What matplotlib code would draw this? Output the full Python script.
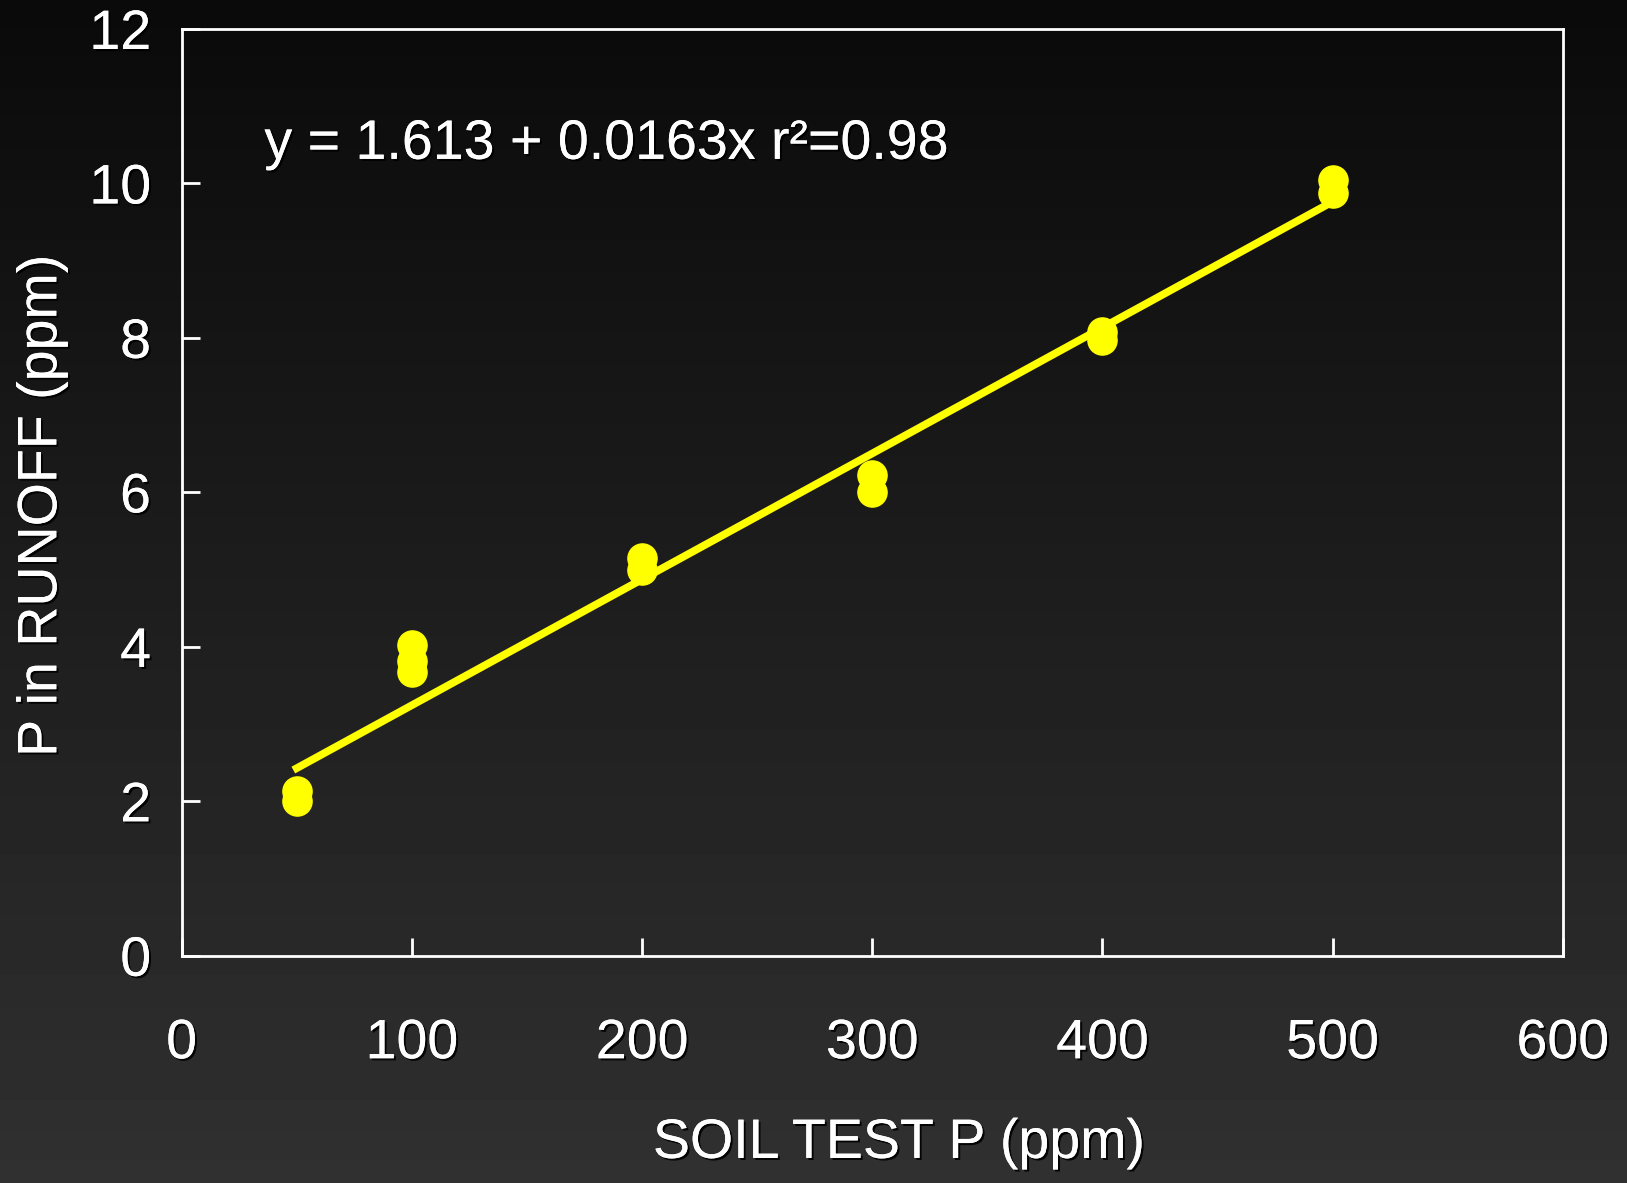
#!/usr/bin/env python3
"""Soil test P vs P in runoff, dark slide style."""

import numpy as np
import matplotlib
matplotlib.use("Agg")
import matplotlib.pyplot as plt
import matplotlib.patheffects as pe

# data
soil_p = [50, 50, 100, 100, 100, 200, 200, 300, 300, 400, 400, 500, 500]
runoff_p = [2.0, 2.13, 4.02, 3.82, 3.68, 5.15, 5.0, 6.22, 6.0, 8.07, 7.97, 10.05, 9.88]
fit_a = 1.613
fit_b = 0.0163
fit_x = [50, 100, 150, 200, 250, 300, 350, 400, 450, 500]
x_ticks = [0, 100, 200, 300, 400, 500, 600]
y_ticks = [0, 2, 4, 6, 8, 10, 12]

plt.rcParams.update({"font.family": ["Liberation Sans", "DejaVu Sans"]})
shadow = [pe.withSimplePatchShadow(offset=(1.5, -1.5), shadow_rgbFace="black", alpha=0.9),
          pe.Normal()]

fig = plt.figure(figsize=(16.27, 11.83), dpi=100)

# background gradient
bg = fig.add_axes([0, 0, 1, 1], zorder=-10)
grad = np.linspace(0.04, 0.19, 256).reshape(-1, 1)
bg.imshow(grad, aspect="auto", cmap="gray", vmin=0, vmax=1, extent=[0, 1, 0, 1], origin="upper")
bg.set_axis_off()

ax = fig.add_axes([0.1116, 0.1921, 0.8489, 0.7834])
ax.patch.set_alpha(0)

ax.plot(soil_p, runoff_p, "o", color="#ffff00", markersize=21, zorder=3)
fx = np.array(fit_x, dtype=float)
ax.plot(fx, fit_a + fit_b * fx, color="#ffff00", lw=5.5, zorder=2)

ax.set_xlim(0, 600)
ax.set_ylim(0, 12)
ax.set_xticks(x_ticks)
ax.set_yticks(y_ticks)
for s in ax.spines.values():
    s.set_color("white")
    s.set_linewidth(2)
ax.tick_params(direction="in", color="white", width=2, length=13, labelcolor="white",
               labelsize=40)
ax.tick_params(axis="x", pad=45)
ax.tick_params(axis="y", pad=22)
for lab in ax.get_xticklabels() + ax.get_yticklabels():
    lab.set_path_effects(shadow)

ax.text(0.060, 0.875, "y = 1.613 + 0.0163x r\u00b2=0.98",
        transform=ax.transAxes, color="white", fontsize=40, va="center", ha="left",
        path_effects=shadow)

xl = ax.set_xlabel("SOIL TEST P (ppm)", color="white", fontsize=40)
xl.set_path_effects(shadow)
ax.xaxis.set_label_coords(0.519, -0.175)
yl = ax.set_ylabel("P in RUNOFF (ppm)", color="white", fontsize=40)
yl.set_path_effects(shadow)
ax.yaxis.set_label_coords(-0.082, 0.485)

fig.savefig("out.png", dpi=100)
plt.close(fig)
